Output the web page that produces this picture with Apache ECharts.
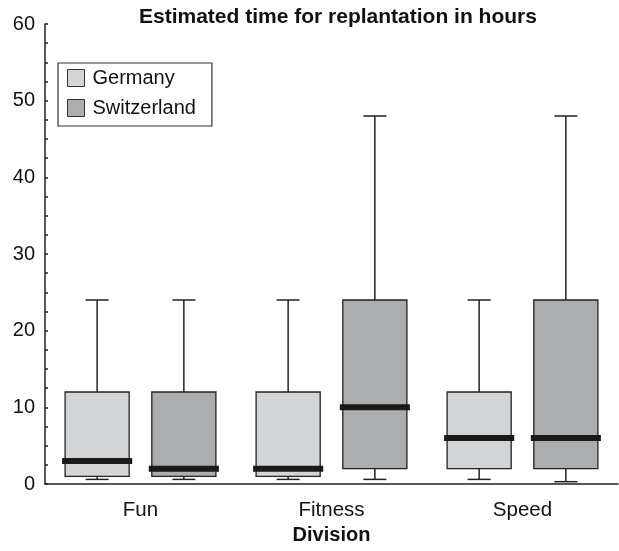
<!DOCTYPE html>
<html>
<head>
<meta charset="utf-8">
<script src="https://cdn.jsdelivr.net/npm/echarts@6/dist/echarts.min.js"></script>
<style>
  html, body { margin: 0; padding: 0; background: #fff; }
  #main { width: 619px; height: 551px; }
</style>
</head>
<body>
<div id="main"></div>
<script>
// categories on the x axis
var categories = ['Fun', 'Fitness', 'Speed'];
// [low whisker, Q1, median, Q3, high whisker] per category
var germanyStats = [
  [0.6, 1, 3, 12, 24],
  [0.6, 1, 2, 12, 24],
  [0.6, 2, 6, 12, 24]
];
var switzerlandStats = [
  [0.6, 1, 2, 12, 24],
  [0.6, 2, 10, 24, 48],
  [0.3, 2, 6, 24, 48]
];
var yTicks = [0, 10, 20, 30, 40, 50, 60];

var germanyColor = '#d3d4d6';
var swissColor = '#acadaf';
var lineColor = '#222';

function toData(stats) {
  return stats.map(function (s, i) { return [i].concat(s); });
}

// same split of the band as echarts boxplot does for 2 series
function makeRender(idx, fill) {
  return function (params, api) {
    var band = api.size([1, 0])[0];
    var avail = band * 0.8 - 2;
    var gap = avail / 2 * 0.3;
    var boxW = (avail - gap) / 2;
    var offset = (idx === 0 ? -1 : 1) * (gap + boxW) / 2;
    var cat = api.value(0);
    var x = api.coord([cat, 0])[0] + offset;
    var yLow = api.coord([cat, api.value(1)])[1];
    var yQ1 = api.coord([cat, api.value(2)])[1];
    var yMed = api.coord([cat, api.value(3)])[1];
    var yQ3 = api.coord([cat, api.value(4)])[1];
    var yHigh = api.coord([cat, api.value(5)])[1];
    var cap = 23;
    var ls = { stroke: lineColor, lineWidth: 1.5 };
    return {
      type: 'group',
      children: [
        { type: 'line', shape: { x1: x, y1: yLow, x2: x, y2: yQ1 }, style: ls },
        { type: 'line', shape: { x1: x, y1: yQ3, x2: x, y2: yHigh }, style: ls },
        { type: 'line', shape: { x1: x - cap / 2, y1: yLow, x2: x + cap / 2, y2: yLow }, style: ls },
        { type: 'line', shape: { x1: x - cap / 2, y1: yHigh, x2: x + cap / 2, y2: yHigh }, style: ls },
        { type: 'rect', shape: { x: x - boxW / 2, y: yQ3, width: boxW, height: yQ1 - yQ3 },
          style: { fill: fill, stroke: lineColor, lineWidth: 1.3 } },
        { type: 'rect', shape: { x: x - boxW / 2 - 3, y: yMed - 3, width: boxW + 6, height: 6 },
          style: { fill: '#1a1a1a' } }
      ]
    };
  };
}

var myChart = echarts.init(document.getElementById('main'));
var option = {
  backgroundColor: '#fff',
  animation: false,
  textStyle: { fontFamily: 'Liberation Sans, Arial, sans-serif', color: '#111' },
  title: {
    text: 'Estimated time for replantation in hours',
    left: 139,
    top: 7,
    padding: 0,
    textStyle: { fontSize: 21, fontWeight: 'bold', color: '#111', fontFamily: 'Liberation Sans, Arial, sans-serif' }
  },
  legend: {
    orient: 'vertical',
    left: 58,
    top: 63,
    padding: [5, 16, 8, 9],
    itemWidth: 17,
    itemHeight: 17,
    itemGap: 10,
    borderColor: '#333',
    borderWidth: 1.2,
    backgroundColor: '#fff',
    icon: 'rect',
    textStyle: { fontSize: 20, color: '#111', padding: [0, 0, 0, 3] },
    data: [
      { name: 'Germany', itemStyle: { color: germanyColor, borderColor: '#333', borderWidth: 1 } },
      { name: 'Switzerland', itemStyle: { color: swissColor, borderColor: '#333', borderWidth: 1 } }
    ]
  },
  grid: { left: 45, right: 1, top: 24, bottom: 67 },
  xAxis: {
    type: 'category',
    data: categories,
    name: 'Division',
    nameLocation: 'middle',
    nameGap: 34,
    nameTextStyle: { fontSize: 20, fontWeight: 'bold', color: '#111' },
    axisLine: { lineStyle: { color: lineColor, width: 1.5 } },
    axisTick: { alignWithLabel: true, length: 9, lineStyle: { color: lineColor, width: 1.5 } },
    axisLabel: { fontSize: 20.5, color: '#111', margin: 16 },
    splitLine: { show: false }
  },
  yAxis: {
    type: 'value',
    min: yTicks[0],
    max: yTicks[yTicks.length - 1],
    interval: 10,
    axisLine: { show: true, lineStyle: { color: lineColor, width: 1.5 } },
    axisTick: { show: true, inside: true, length: 3, lineStyle: { color: lineColor, width: 1.5 } },
    minorTick: { show: true, splitNumber: 4, length: 3, lineStyle: { color: lineColor, width: 1.5 } },
    axisLabel: { fontSize: 20, color: '#111', margin: 10 },
    splitLine: { show: false }
  },
  series: [
    {
      name: 'Germany',
      type: 'custom',
      renderItem: makeRender(0, germanyColor),
      itemStyle: { color: germanyColor, borderColor: '#333' },
      encode: { x: 0, y: [1, 2, 3, 4, 5] },
      data: toData(germanyStats)
    },
    {
      name: 'Switzerland',
      type: 'custom',
      renderItem: makeRender(1, swissColor),
      itemStyle: { color: swissColor, borderColor: '#333' },
      encode: { x: 0, y: [1, 2, 3, 4, 5] },
      data: toData(switzerlandStats)
    }
  ]
};
myChart.setOption(option);
</script>
</body>
</html>
